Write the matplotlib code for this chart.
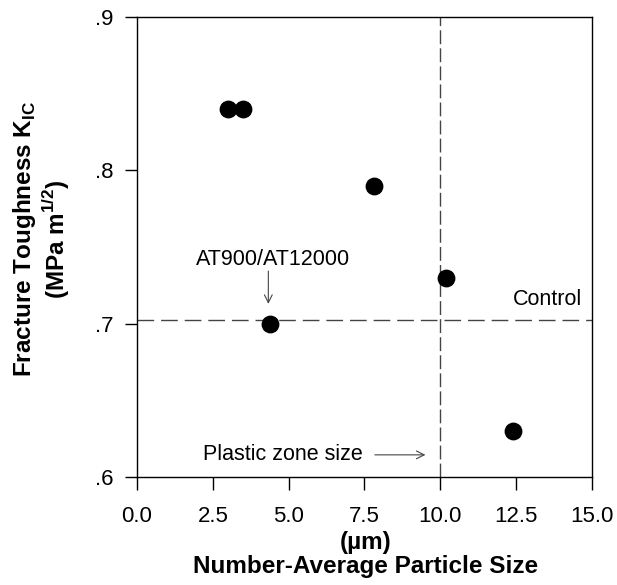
import matplotlib
matplotlib.use("Agg")
import matplotlib.pyplot as plt

# ── Data ──────────────────────────────────────────────────────────────────────
particle_size = [3.0, 3.5, 7.8, 10.2, 4.4, 12.4]      # µm
toughness     = [0.84, 0.84, 0.79, 0.73, 0.70, 0.63]  # MPa m^1/2

control_kic   = 0.702
plastic_zone  = 10.0

x_ticks = [0.0, 2.5, 5.0, 7.5, 10.0, 12.5, 15.0]
y_ticks = [0.6, 0.7, 0.8, 0.9]
y_tick_labels = [".6", ".7", ".8", ".9"]

# ── Style ─────────────────────────────────────────────────────────────────────
plt.rcParams["font.family"] = ["Liberation Sans", "DejaVu Sans"]
plt.rcParams["mathtext.fontset"] = "custom"
plt.rcParams["mathtext.rm"] = "Liberation Sans"
plt.rcParams["mathtext.bf"] = "Liberation Sans:bold"

LINE = "#444444"

fig = plt.figure(figsize=(6.17, 5.85), dpi=100)
ax = fig.add_axes([0.222, 0.185, 0.7375, 0.786])

ax.axhline(control_kic, color=LINE, lw=1.0, dashes=(12, 5), zorder=1)
ax.axvline(plastic_zone, color=LINE, lw=1.0, dashes=(10, 3), zorder=1)

ax.scatter(particle_size, toughness, s=140, color="black", zorder=3)

ax.set_xlim(0, 15)
ax.set_ylim(0.6, 0.9)
ax.set_xticks(x_ticks)
ax.set_xticklabels([f"{v:.1f}" for v in x_ticks])
ax.set_yticks(y_ticks)
ax.set_yticklabels(y_tick_labels)
ax.tick_params(direction="out", length=9, width=1.0, labelsize=16)
ax.tick_params(axis="x", pad=12)
ax.tick_params(axis="y", pad=8)

for spine in ax.spines.values():
    spine.set_linewidth(1.0)

# ── Annotations ───────────────────────────────────────────────────────────────
ax.text(14.66, 0.712, "Control", fontsize=15.5, ha="right", va="baseline")

ax.text(4.5, 0.738, "AT900/AT12000", fontsize=15.5, ha="center", va="baseline")
ax.annotate("", xy=(4.33, 0.711), xytext=(4.33, 0.736),
            arrowprops=dict(arrowstyle="->", color=LINE, lw=0.8,
                            mutation_scale=14))

ax.text(7.45, 0.6143, "Plastic zone size", fontsize=15.5, ha="right", va="center")
ax.annotate("", xy=(9.6, 0.6143), xytext=(7.75, 0.6143),
            arrowprops=dict(arrowstyle="->", color=LINE, lw=0.8,
                            mutation_scale=14))

# ── Axis labels ───────────────────────────────────────────────────────────────
fig.text(25 / 617, 1 - 239 / 585, r"Fracture Toughness K$_\mathbf{IC}$",
         rotation=90, ha="center", va="center", fontsize=17.5, fontweight="bold")
fig.text(56 / 617, 1 - 239 / 585, r"(MPa m$^\mathbf{1/2}$)",
         rotation=90, ha="center", va="center", fontsize=17.5, fontweight="bold")

fig.text(366 / 617, 1 - 542 / 585, "(µm)",
         ha="center", va="center", fontsize=17.5, fontweight="bold")
fig.text(366 / 617, 1 - 567 / 585, "Number-Average Particle Size",
         ha="center", va="center", fontsize=17.5, fontweight="bold")

fig.savefig("out.png", dpi=100, facecolor="white")
plt.close(fig)
